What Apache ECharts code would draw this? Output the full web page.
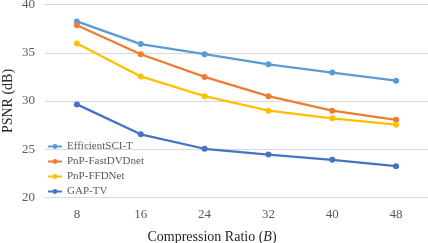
<!DOCTYPE html>
<html><head><meta charset="utf-8">
<script src="https://cdn.jsdelivr.net/npm/echarts@6/dist/echarts.min.js"></script>
<style>html,body{margin:0;padding:0;background:#fff}#c{width:428px;height:243px}</style>
</head><body><div id="c"></div>
<script>
const categories = ['8','16','24','32','40','48'];
const efficientSCI = [38.25, 35.9, 34.85, 33.8, 32.95, 32.1];
const fastDVDnet = [37.85, 34.85, 32.5, 30.5, 29.0, 28.05];
const ffdnet = [35.95, 32.55, 30.5, 29.0, 28.2, 27.55];
const gapTV = [29.65, 26.55, 25.05, 24.45, 23.9, 23.25];
const yTicks = {min: 20, max: 40, interval: 5};

const font = 'Liberation Serif';
const chart = echarts.init(document.getElementById('c'), null, {renderer: 'canvas'});
function s(name, data, color) {
  return {name, type: 'line', data, symbol: 'circle', symbolSize: 6,
    lineStyle: {color, width: 2.25}, itemStyle: {color}, z: 3};
}
chart.setOption({
  animation: false,
  grid: {left: 45, right: 0, top: 4.5, bottom: 45.5, containLabel: false, outerBoundsMode: 'none'},
  xAxis: {type: 'category', data: categories, boundaryGap: true,
    axisLine: {lineStyle: {color: '#D9D9D9', width: 1}}, axisTick: {show: false},
    axisLabel: {fontFamily: font, fontSize: 13, color: '#595959', margin: 11}},
  yAxis: {type: 'value', min: yTicks.min, max: yTicks.max, interval: yTicks.interval,
    name: 'PSNR (dB)', nameLocation: 'middle', nameGap: 30, nameRotate: 90, nameMoveOverlap: false,
    nameTextStyle: {fontFamily: font, fontSize: 14, color: '#262626'},
    axisLine: {show: false}, axisTick: {show: false},
    splitLine: {lineStyle: {color: '#D9D9D9', width: 1}},
    axisLabel: {fontFamily: font, fontSize: 13, color: '#595959', margin: 10}},
  title: {text: '{a|Compression Ratio (}{b|B}{a|)}', left: 207, top: 225, textAlign: 'center',
    textStyle: {fontWeight: 'normal', rich: {a: {fontFamily: font, fontSize: 14, color: '#262626', fontWeight: 'normal'},
      b: {fontFamily: font, fontSize: 14, color: '#262626', fontStyle: 'italic', fontWeight: 'normal'}}}},
  legend: {orient: 'vertical', left: 47, top: 141, padding: 0, itemWidth: 14, itemHeight: 6, itemGap: 4,
    textStyle: {fontFamily: font, fontSize: 11, color: '#595959'},
    data: ['EfficientSCI-T', 'PnP-FastDVDnet', 'PnP-FFDNet', 'GAP-TV']},
  series: [s('EfficientSCI-T', efficientSCI, '#5B9BD5'), s('PnP-FastDVDnet', fastDVDnet, '#ED7D31'),
    s('PnP-FFDNet', ffdnet, '#FFC000'), s('GAP-TV', gapTV, '#4472C4')]
});
</script></body></html>
